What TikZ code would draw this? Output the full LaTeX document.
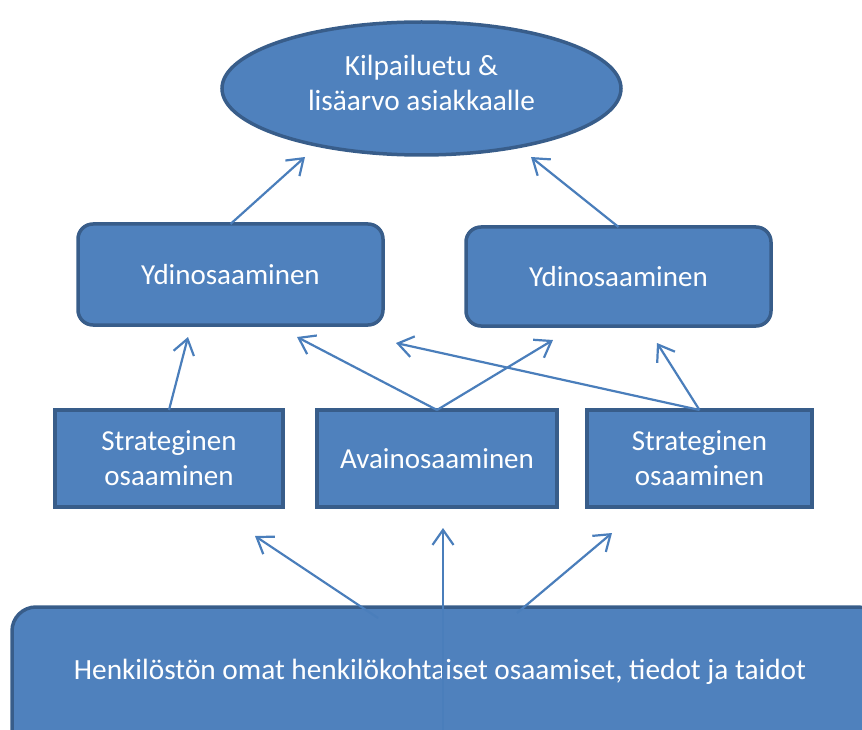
\documentclass[tikz,border=0pt]{standalone}
\usepackage{fontspec}
\setmainfont{Carlito}
\usetikzlibrary{shapes.geometric,arrows.meta,calc}
\definecolor{boxfill}{HTML}{4F81BD}
\definecolor{boxline}{HTML}{385D8A}
\definecolor{arrowcol}{HTML}{4A7EBB}
\tikzset{
  every node/.style={inner sep=0pt, outer sep=0pt},
  blockbase/.style={fill=boxfill, draw=boxline, line width=3.5pt,
    text=white, font=\fontsize{29}{35}\selectfont, align=center},
  roundbox/.style={blockbase, rectangle, rounded corners=15pt},
  squarebox/.style={blockbase, rectangle},
  goalshape/.style={blockbase, ellipse},
  labeltext/.style={text=white, font=\fontsize{29.3}{35}\selectfont, align=center},
  arr/.style={draw=arrowcol, line width=2.2pt,
    -{Straight Barb[length=15pt, width=21pt, line width=2.2pt]}}
}
\begin{document}
\begin{tikzpicture}[x=1pt, y=-1pt]
  \useasboundingbox (0,0) rectangle (862,730);
  \clip (0,0) rectangle (862,730);

  % goal at the top
  \node[goalshape, minimum width=399pt, minimum height=133pt] (goal) at (421.5,88.5) {};
  \node[labeltext] (goaltext) at (421.5,83) {Kilpailuetu \&\\lisäarvo asiakkaalle};

  % core competences
  \node[roundbox, minimum width=305pt, minimum height=101pt] (coreL) at (230.5,274.5) {Ydinosaaminen};
  \node[roundbox, minimum width=305pt, minimum height=99pt] (coreR) at (618.5,276.5) {Ydinosaaminen};

  % strategic and key competences
  \node[squarebox, minimum width=228pt, minimum height=97pt] (stratL) at (169,458.5) {Strateginen\\osaaminen};
  \node[squarebox, minimum width=240pt, minimum height=97pt] (key) at (437,458.5) {Avainosaaminen};
  \node[squarebox, minimum width=225pt, minimum height=97pt] (stratR) at (699.5,458.5) {Strateginen\\osaaminen};

  % personnel base
  \node[roundbox, rounded corners=24pt, minimum width=870pt, minimum height=160pt] (base) at (447,687) {};
  \node[labeltext] (basetext) at (440,672) {Henkilöstön omat henkilökohtaiset osaamiset, tiedot ja taidot};

  % arrow tips
  \coordinate (tGoalL) at (305,157);
  \coordinate (tGoalR) at (531,157);
  \coordinate (tCoreLa) at (188,337);
  \coordinate (tCoreLb) at (297,337);
  \coordinate (tCoreLc) at (396,343);
  \coordinate (tCoreRa) at (553,340);
  \coordinate (tCoreRb) at (657,343);
  \coordinate (tStratL) at (255,536);
  \coordinate (tKey) at (443,528);
  \coordinate (tStratR) at (612,533);

  % arrow tails inside the base box
  \coordinate (sBaseL) at (378,618);
  \coordinate (sBaseM) at (443,735);
  \coordinate (sBaseR) at (517,613);

  \draw[arr] (coreL.north) -- (tGoalL);
  \draw[arr] (coreR.north) -- (tGoalR);
  \draw[arr] (stratL.north) -- (tCoreLa);
  \draw[arr] (key.north) -- (tCoreLb);
  \draw[arr] (key.north) -- (tCoreRa);
  \draw[arr] (stratR.north) -- (tCoreLc);
  \draw[arr] (stratR.north) -- (tCoreRb);
  \draw[arr] (sBaseL) -- (tStratL);
  \draw[arr] (sBaseM) -- (tKey);
  \draw[arr] (sBaseR) -- (tStratR);
\end{tikzpicture}
\end{document}
